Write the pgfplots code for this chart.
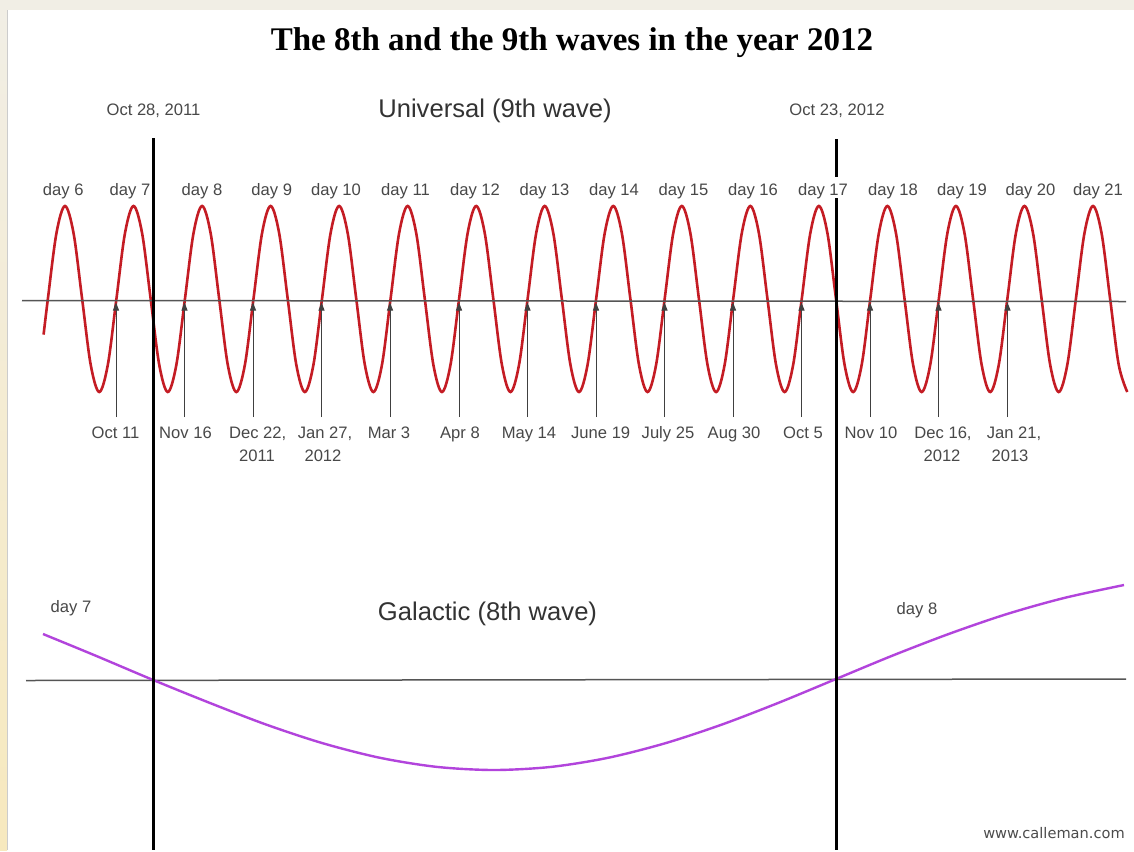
\documentclass[border=0pt]{standalone}
\usepackage{pgfplots}
\pgfplotsset{compat=1.18}
\usepackage{fontspec}
\setmainfont{Liberation Sans}
\newfontfamily\titlefont{Liberation Serif}
\newfontfamily\webfont{DejaVu Sans}
\usetikzlibrary{arrows.meta}
\definecolor{beige}{RGB}{241,238,229}
\definecolor{beigey}{RGB}{247,233,190}
\definecolor{wavered}{RGB}{196,28,36}
\definecolor{wavepurple}{RGB}{178,68,220}
\definecolor{lbl}{RGB}{72,72,72}
\definecolor{axgray}{RGB}{85,85,85}
\pgfplotsset{base/.style={width=567pt,height=425pt,scale only axis,hide axis,clip=false}}
\newcommand{\sm}{\fontsize{8.3}{10}\selectfont}
\tikzset{lb/.style={anchor=base,inner sep=0pt,text=lbl,font=\sm},
  arr/.style={black!75,line width=0.5pt,-{Triangle[length=4pt,width=3pt]}}}
\begin{document}
\begin{tikzpicture}
% background layer (pixel coordinates)
\begin{axis}[base,xmin=0,xmax=1134,ymin=0,ymax=850,y dir=reverse]
\fill[beige] (axis cs:0,0) rectangle (axis cs:1134,850);
\shade[top color=beige,bottom color=beigey] (axis cs:0,10) rectangle (axis cs:7,850);
\fill[white] (axis cs:7,10) rectangle (axis cs:1134,850);
\draw[gray!40,line width=0.5pt] (axis cs:7.2,10) -- (axis cs:7.2,850);
\end{axis}
% red wave (x in eighths of a period, y in amplitude units)
\begin{axis}[base,xmin=-7.5876,xmax=124.786,ymin=-5.9247,ymax=3.2151]
\addplot[wavered,line width=1.3pt,smooth,tension=0.55] coordinates {
(-2.5,-0.383)(-2,0)(-1,0.707)
(0,1)(1,0.707)(2,0)(3,-0.707)(4,-1)(5,-0.707)(6,0)(7,0.707)
(8,1)(9,0.707)(10,0)(11,-0.707)(12,-1)(13,-0.707)(14,0)(15,0.707)
(16,1)(17,0.707)(18,0)(19,-0.707)(20,-1)(21,-0.707)(22,0)(23,0.707)
(24,1)(25,0.707)(26,0)(27,-0.707)(28,-1)(29,-0.707)(30,0)(31,0.707)
(32,1)(33,0.707)(34,0)(35,-0.707)(36,-1)(37,-0.707)(38,0)(39,0.707)
(40,1)(41,0.707)(42,0)(43,-0.707)(44,-1)(45,-0.707)(46,0)(47,0.707)
(48,1)(49,0.707)(50,0)(51,-0.707)(52,-1)(53,-0.707)(54,0)(55,0.707)
(56,1)(57,0.707)(58,0)(59,-0.707)(60,-1)(61,-0.707)(62,0)(63,0.707)
(64,1)(65,0.707)(66,0)(67,-0.707)(68,-1)(69,-0.707)(70,0)(71,0.707)
(72,1)(73,0.707)(74,0)(75,-0.707)(76,-1)(77,-0.707)(78,0)(79,0.707)
(80,1)(81,0.707)(82,0)(83,-0.707)(84,-1)(85,-0.707)(86,0)(87,0.707)
(88,1)(89,0.707)(90,0)(91,-0.707)(92,-1)(93,-0.707)(94,0)(95,0.707)
(96,1)(97,0.707)(98,0)(99,-0.707)(100,-1)(101,-0.707)(102,0)(103,0.707)
(104,1)(105,0.707)(106,0)(107,-0.707)(108,-1)(109,-0.707)(110,0)(111,0.707)
(112,1)(113,0.707)(114,0)(115,-0.707)(116,-1)(117,-0.707)(118,0)(119,0.707)
(120,1)(121,0.707)(122,0)(123,-0.707)(124,-1)
};
\end{axis}
% foreground (pixel coordinates)
\begin{axis}[base,xmin=0,xmax=1134,ymin=0,ymax=850,y dir=reverse]
% horizontal axis lines
\draw[axgray,line width=0.75pt] (axis cs:22,300.5) -- (axis cs:1126,301.5);
\draw[axgray,line width=0.75pt] (axis cs:26,680.5) -- (axis cs:1126,679);
% purple wave
\addplot[wavepurple,line width=1.2pt,smooth] coordinates {
(43,634)(95,655.4)(152,679.5)(209,702.6)(266,724.5)(323,743.3)(380,757.8)
(437,766.9)(494,770)(551,766.9)(608,757.8)(665,743.3)(722,724.5)(779,702.6)
(836,679)(893,655.4)(950,633.5)(1007,614)(1064,598)(1124,585)
};
% arrows
\draw[arr] (axis cs:116,417) -- (axis cs:116,302.5);
\draw[arr] (axis cs:184.5,417) -- (axis cs:184.5,302.5);
\draw[arr] (axis cs:253,417) -- (axis cs:253,302.5);
\draw[arr] (axis cs:321.5,417) -- (axis cs:321.5,302.5);
\draw[arr] (axis cs:390,417) -- (axis cs:390,302.5);
\draw[arr] (axis cs:459,417) -- (axis cs:459,302.5);
\draw[arr] (axis cs:527.5,417) -- (axis cs:527.5,302.5);
\draw[arr] (axis cs:596,417) -- (axis cs:596,302.5);
\draw[arr] (axis cs:664.5,417) -- (axis cs:664.5,302.5);
\draw[arr] (axis cs:733,417) -- (axis cs:733,302.5);
\draw[arr] (axis cs:801.5,417) -- (axis cs:801.5,302.5);
\draw[arr] (axis cs:870,417) -- (axis cs:870,302.5);
\draw[arr] (axis cs:938.5,417) -- (axis cs:938.5,302.5);
\draw[arr] (axis cs:1007.5,417) -- (axis cs:1007.5,302.5);
% vertical black lines
\draw[black,line width=1.5pt] (axis cs:153,138) -- (axis cs:153,850);
\draw[black,line width=1.5pt] (axis cs:836,139) -- (axis cs:836,177);
\draw[black,line width=1.5pt] (axis cs:836,198) -- (axis cs:836,850);
% title
\node[anchor=base,inner sep=0pt] at (axis cs:572,50) {\titlefont\bfseries\fontsize{16.5}{20}\selectfont The 8th and the 9th waves in the year 2012};
% top labels
\node[lb] at (axis cs:153.5,115) {Oct 28, 2011};
\node[lb] at (axis cs:837,115) {Oct 23, 2012};
\node[anchor=base,inner sep=0pt,text=black!80] at (axis cs:495,117) {\fontsize{12.8}{15}\selectfont Universal (9th wave)};
% day labels
\node[lb] at (axis cs:63.3,195) {day 6};
\node[lb] at (axis cs:130,195) {day 7};
\node[lb] at (axis cs:202,195) {day 8};
\node[lb] at (axis cs:271.7,195) {day 9};
\node[lb] at (axis cs:336,195) {day 10};
\node[lb] at (axis cs:405.5,195) {day 11};
\node[lb] at (axis cs:475,195) {day 12};
\node[lb] at (axis cs:544.5,195) {day 13};
\node[lb] at (axis cs:614,195) {day 14};
\node[lb] at (axis cs:683.5,195) {day 15};
\node[lb] at (axis cs:753,195) {day 16};
\node[lb] at (axis cs:823,195) {day 17};
\node[lb] at (axis cs:893,195) {day 18};
\node[lb] at (axis cs:962,195) {day 19};
\node[lb] at (axis cs:1030.5,195) {day 20};
\node[lb] at (axis cs:1098,195) {day 21};
% date labels
\node[lb] at (axis cs:115.5,438) {Oct 11};
\node[lb] at (axis cs:185.5,438) {Nov 16};
\node[lb] at (axis cs:389,438) {Mar 3};
\node[lb] at (axis cs:460,438) {Apr 8};
\node[lb] at (axis cs:529,438) {May 14};
\node[lb] at (axis cs:600.7,438) {June 19};
\node[lb] at (axis cs:668,438) {July 25};
\node[lb] at (axis cs:734,438) {Aug 30};
\node[lb] at (axis cs:803,438) {Oct 5};
\node[lb] at (axis cs:871,438) {Nov 10};
\node[lb] at (axis cs:257.7,438) {Dec 22,};
\node[lb] at (axis cs:257,461) {2011};
\node[lb] at (axis cs:325,438) {Jan 27,};
\node[lb] at (axis cs:323,461) {2012};
\node[lb] at (axis cs:943,438) {Dec 16,};
\node[lb] at (axis cs:942,461) {2012};
\node[lb] at (axis cs:1014,438) {Jan 21,};
\node[lb] at (axis cs:1010,461) {2013};
% lower labels
\node[lb] at (axis cs:71,612.5) {day 7};
\node[lb] at (axis cs:917,614) {day 8};
\node[anchor=base,inner sep=0pt,text=black!80] at (axis cs:487.5,620) {\fontsize{12.8}{15}\selectfont Galactic (8th wave)};
\node[anchor=base,inner sep=0pt,text=black!70] at (axis cs:1054,838) {\webfont\fontsize{7.3}{9}\selectfont www.calleman.com};
\end{axis}
\end{tikzpicture}
\end{document}
